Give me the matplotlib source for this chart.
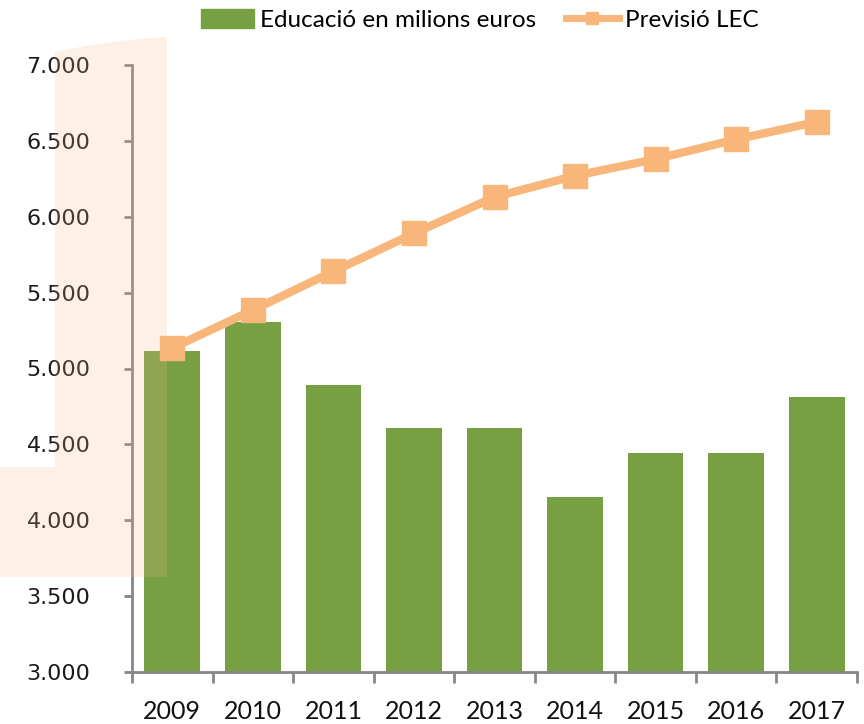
import matplotlib
matplotlib.use("Agg")
import matplotlib.pyplot as plt
from matplotlib.patches import PathPatch
from matplotlib.path import Path
from matplotlib.lines import Line2D
from matplotlib.patches import Patch
import numpy as np

years = ["2009", "2010", "2011", "2012", "2013", "2014", "2015", "2016", "2017"]
educacio = [5115, 5305, 4890, 4605, 4605, 4150, 4440, 4440, 4815]
previsio = [5135, 5385, 5640, 5890, 6130, 6270, 6380, 6510, 6625]
yticks = [3000, 3500, 4000, 4500, 5000, 5500, 6000, 6500, 7000]
ytick_labels = ["3.000", "3.500", "4.000", "4.500", "5.000", "5.500", "6.000", "6.500", "7.000"]

GREEN = "#77A043"
ORANGE = "#F9B67A"
AXIS = "#868686"

W, H = 864, 724
fig = plt.figure(figsize=(W / 100, H / 100), dpi=100)
ax = fig.add_axes([132 / W, 1 - 672 / H, (857 - 132) / W, (672 - 65) / H])

x = np.arange(len(years))
ax.bar(x, educacio, width=0.69, color=GREEN, zorder=2)
ax.plot(x, previsio, color=ORANGE, lw=6, marker="s", markersize=17,
        markerfacecolor=ORANGE, markeredgecolor=ORANGE, zorder=3)

ax.set_xlim(-0.5, len(years) - 0.5)
ax.set_ylim(3000, 7000)
ax.set_yticks(yticks)
ax.set_yticklabels(ytick_labels, fontsize=16, family="DejaVu Sans", color="#1a1a1a")
ax.set_xticks(x)
ax.set_xticklabels(years, fontsize=18, family="Lato", color="#111111")
ax.set_xticks(np.arange(-0.5, len(years)), minor=True)

for s in ["top", "right"]:
    ax.spines[s].set_visible(False)
for s in ["left", "bottom"]:
    ax.spines[s].set_color(AXIS)
    ax.spines[s].set_linewidth(2)

ax.tick_params(axis="y", which="major", direction="out", length=6, width=2,
               color=AXIS, pad=24)
ax.tick_params(axis="x", which="major", length=0, pad=20)
ax.tick_params(axis="x", which="minor", direction="out", length=8, width=2,
               color=AXIS)

handles = [Patch(facecolor=GREEN, edgecolor=GREEN),
           Line2D([0], [0], color=ORANGE, lw=5, marker="s", markersize=9)]
fig.legend(handles, ["Educació en milions euros", "Previsió LEC"],
           loc="center left", bbox_to_anchor=(191 / W, 1 - 20 / H), ncol=2,
           frameon=False, prop={"family": "Lato", "size": 17.5},
           handlelength=2.2, handleheight=0.8, handletextpad=0.25,
           columnspacing=1.2, borderaxespad=0)

# translucent peach overlay on the left
verts = [(55, 52), (90, 44), (130, 39), (167, 37), (167, 577), (0, 577),
         (0, 467), (55, 467), (55, 52)]
codes = [Path.MOVETO, Path.CURVE4, Path.CURVE4, Path.CURVE4, Path.LINETO,
         Path.LINETO, Path.LINETO, Path.LINETO, Path.CLOSEPOLY]
verts_fig = [(vx / W, 1 - vy / H) for vx, vy in verts]
patch = PathPatch(Path(verts_fig, codes), transform=fig.transFigure,
                  facecolor="#F5B98A", edgecolor="none", alpha=0.2, zorder=10)
fig.patches.append(patch)

fig.savefig("out.png", dpi=100)
